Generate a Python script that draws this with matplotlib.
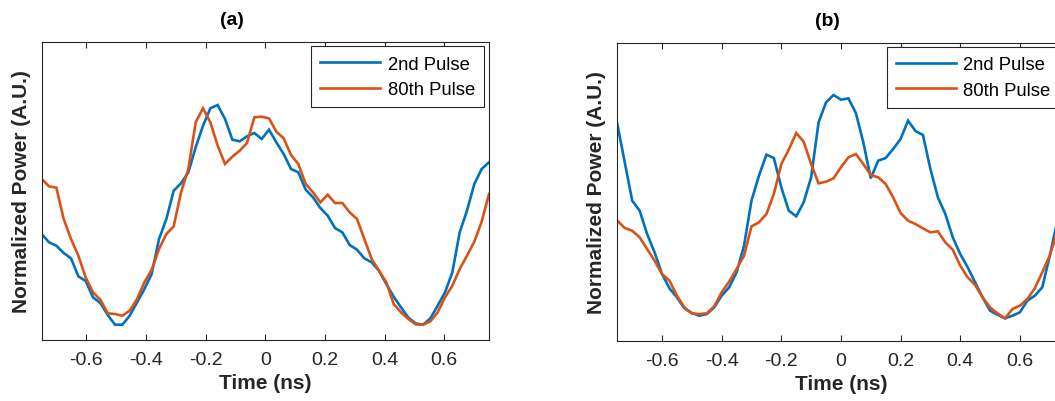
import numpy as np
import matplotlib
matplotlib.use("Agg")
import matplotlib.pyplot as plt

plt.rcParams["font.family"] = ["Liberation Sans", "DejaVu Sans"]

# Normalized power traces (fraction of the plotted range)
# Panel (a)
a_2nd = [615, 640, 650, 672, 688, 742, 756, 805, 822, 858,
         887, 887, 860, 820, 780, 735, 630, 570, 485, 463,
         430, 355, 290, 238, 228, 270, 332, 337, 322, 312,
         330, 302, 340, 375, 420, 430, 482, 505, 537, 560,
         597, 610, 648, 662, 688, 700, 725, 765, 803, 835,
         866, 883, 887, 868, 830, 790, 730, 610, 545, 465,
         420, 400]
a_80th = [450, 472, 476, 570, 630, 680, 745, 790, 812, 853,
          855, 860, 845, 810, 760, 722, 660, 615, 592, 490,
          420, 280, 238, 280, 350, 405, 383, 365, 342, 265,
          263, 268, 308, 328, 378, 405, 465, 490, 520, 497,
          522, 522, 550, 570, 630, 690, 725, 760, 825, 850,
          870, 886, 887, 877, 850, 805, 770, 720, 680, 638,
          578, 495]
# Panel (b)
b_2nd = [285, 400, 515, 545, 615, 670, 735, 778, 805, 838,
         852, 860, 855, 835, 800, 775, 730, 650, 515, 440,
         377, 387, 475, 545, 562, 520, 445, 280, 220, 198,
         212, 208, 252, 340, 448, 395, 387, 360, 330, 275,
         306, 318, 420, 505, 555, 625, 675, 715, 760, 805,
         845, 857, 868, 860, 850, 815, 800, 775, 682, 578]
b_80th = [575, 597, 605, 625, 660, 695, 735, 755, 800, 835,
          853, 855, 853, 832, 790, 758, 720, 680, 592, 580,
          555, 495, 405, 362, 312, 338, 405, 463, 458, 448,
          415, 385, 375, 405, 438, 445, 465, 505, 552, 575,
          585, 598, 610, 607, 640, 662, 710, 745, 768, 805,
          835, 853, 868, 840, 830, 810, 778, 730, 680, 610]

t_a = np.linspace(-0.75, 0.75, len(a_2nd))
t_b = np.linspace(-0.75, 0.725, len(b_2nd))

xticks = [-0.6, -0.4, -0.2, 0, 0.2, 0.4, 0.6]
xticklabels = ["-0.6", "-0.4", "-0.2", "0", "0.2", "0.4", "0.6"]
labels = ["2nd Pulse", "80th Pulse"]
titles = ["(a)", "(b)"]

BLUE = "#0072BD"
ORANGE = "#D95319"
DARK = "#262626"


def scale_a(v):
    return (932 - np.asarray(v, float)) / 892.0


def scale_b(v):
    return (935 - np.asarray(v, float)) / 893.0


fig = plt.figure(figsize=(10.55, 4.02), dpi=100)
ax_a = fig.add_axes([41.7 / 1055, 61.3 / 402, 447.3 / 1055, 297.4 / 402])
ax_b = fig.add_axes([617.3 / 1055, 60.3 / 402, 447.3 / 1055, 297.7 / 402])

panels = [
    (ax_a, t_a, scale_a(a_2nd), scale_a(a_80th), titles[0], 0.425),
    (ax_b, t_b, scale_b(b_2nd), scale_b(b_80th), titles[1], 0.469),
]

for ax, t, y2, y80, title, tx in panels:
    ax.plot(t, y2, color=BLUE, lw=1.9, label=labels[0], solid_joinstyle="miter")
    ax.plot(t, y80, color=ORANGE, lw=1.9, label=labels[1], solid_joinstyle="miter")
    ax.set_xlim(-0.75, 0.75)
    ax.set_ylim(0, 1)
    ax.set_xticks(xticks)
    ax.set_xticklabels(xticklabels)
    ax.set_yticks([])
    ax.tick_params(axis="x", direction="in", length=4, width=0.8, top=True,
                   labelsize=14, colors=DARK, labelcolor=DARK, pad=8)
    for s in ax.spines.values():
        s.set_color(DARK)
        s.set_linewidth(0.8)
    ax.set_xlabel("Time (ns)", fontsize=15, fontweight="bold", color=DARK, labelpad=4)
    ax.set_ylabel("Normalized Power (A.U.)", fontsize=15, fontweight="bold",
                  color=DARK, labelpad=8)
    ax.text(tx, 1.075, title, transform=ax.transAxes, ha="center", va="center",
            fontsize=14, fontweight="bold", color="black")
    leg = ax.legend(loc="upper right", bbox_to_anchor=(1 - 5 / 447.3, 1 - 4 / 297.5),
                    borderaxespad=0, fontsize=13.3, handlelength=3.25,
                    handletextpad=0.38, labelspacing=0.47, borderpad=0.5,
                    fancybox=False, framealpha=1, edgecolor=DARK)
    leg.get_frame().set_linewidth(0.8)

fig.savefig("out.png", dpi=100)
